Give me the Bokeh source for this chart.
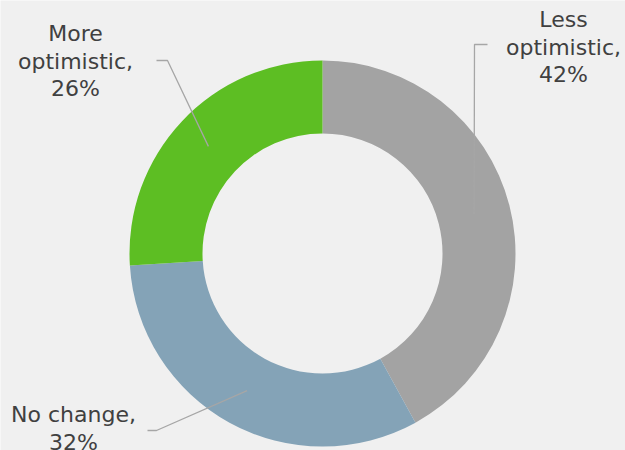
import math
from bokeh.plotting import figure
from bokeh.models import Range1d, ColumnDataSource
from bokeh.core.properties import value
from bokeh.embed import file_html
from bokeh.resources import INLINE

# ---- data ----
categories = ["Less optimistic", "No change", "More optimistic"]
shares = [42, 32, 26]
colors = ["#A3A3A3", "#84A3B7", "#5DBE23"]

# ---- layout ----
W, H = 625, 450
cx, cy = 322, H - 253
r_in, r_out = 120, 193

p = figure(width=W, height=H, output_backend="svg", toolbar_location=None,
           x_range=Range1d(0, W), y_range=Range1d(0, H), min_border=0)
p.axis.visible = False
p.grid.visible = False
p.outline_line_color = None
p.background_fill_color = "#F0F0F0"
p.border_fill_color = "#F0F0F0"

total = sum(shares)
starts, ends, mids = [], [], []
a = math.pi / 2
for s in shares:
    sweep = 2 * math.pi * s / total
    ends.append(a)
    starts.append(a - sweep)
    mids.append(a - sweep / 2)
    a -= sweep

src = ColumnDataSource(dict(x=[cx] * 3, y=[cy] * 3, start=starts, end=ends, color=colors))
p.annular_wedge(x="x", y="y", inner_radius=r_in, outer_radius=r_out,
                start_angle="start", end_angle="end", fill_color="color",
                line_color=None, source=src)

# leader lines: elbow points and label anchors (layout)
elbows = [[(487, 44), (474, 44)],
          [(147, 430), (156, 430)],
          [(156, 60), (167, 60)]]
# (center x, baseline y of first line)
label_pos = [(563, 19), (73, 414), (75, 33)]
line_gap = 27.5

r_mid = (r_in + r_out) / 2
for i, cat in enumerate(categories):
    ex = cx + r_mid * math.cos(mids[i])
    ey = cy + r_mid * math.sin(mids[i])
    xs = [pt[0] for pt in elbows[i]] + [ex]
    ys = [H - pt[1] for pt in elbows[i]] + [ey]
    p.line(xs, ys, line_color="#A6A6A6", line_width=1.3)

tx, ty, tt = [], [], []
for i, cat in enumerate(categories):
    if cat == "No change":
        lines = [f"{cat},", f"{shares[i]}%"]
    else:
        w1, w2 = cat.split(" ")
        lines = [w1, f"{w2},", f"{shares[i]}%"]
    for j, ln in enumerate(lines):
        tx.append(label_pos[i][0])
        ty.append(H - (label_pos[i][1] + j * line_gap))
        tt.append(ln)

p.text(x=tx, y=ty, text=tt, text_align="center", text_baseline="alphabetic",
       text_font=value("DejaVu Sans"), text_font_size="22px", text_color="#404040")

open("out.html", "w").write(file_html(p, INLINE))
